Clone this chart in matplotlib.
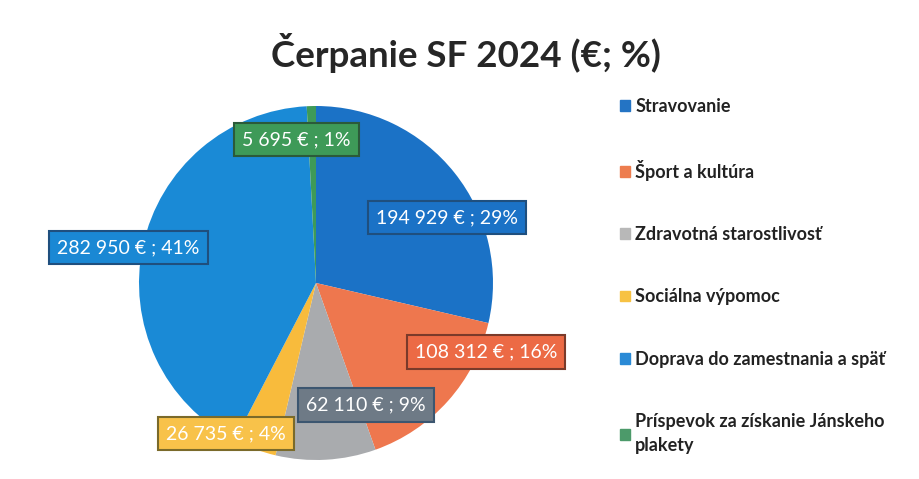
import matplotlib
matplotlib.use('Agg')
import matplotlib.pyplot as plt

# Data
categories = ['Stravovanie', 'Šport a kultúra', 'Zdravotná starostlivosť',
              'Sociálna výpomoc', 'Doprava do zamestnania a späť',
              'Príspevok za získanie Jánskeho\nplakety']
amounts = [194929, 108312, 62110, 26735, 282950, 5695]
percents = [29, 16, 9, 4, 41, 1]

# Styles
slice_colors = ['#1b72c6', '#ee774e', '#a9abae', '#f8bb3c', '#1a8ad6', '#3e9a58']
legend_colors = ['#2474c4', '#ed7d4f', '#b8b8b8', '#f7c243', '#2a8ad6', '#4c9a6a']
box_fill = ['#1b72c6', '#ec6a45', '#6e7a86', '#f8c24a', '#1a88d4', '#3e9a58']
box_edge = ['#1f4f7e', '#7a3a2a', '#3c5670', '#7a6a2a', '#1f4f7e', '#2b5a3a']
# label positions relative to pie centre (radius = 1)
label_pos = [(0.74, 0.37), (0.96, -0.39), (0.28, -0.69),
             (-0.51, -0.85), (-1.06, 0.20), (-0.11, 0.81)]

W, H = 919, 479
fig = plt.figure(figsize=(W / 100, H / 100), dpi=100)
fig.patch.set_facecolor('white')

cx, cy, r = 316, 283, 177
ax = fig.add_axes([(cx - r) / W, (H - cy - r) / H, 2 * r / W, 2 * r / H])
wedges, _ = ax.pie(amounts, colors=slice_colors, startangle=90,
                   counterclock=False, radius=1,
                   wedgeprops=dict(linewidth=0))
ax.set_xlim(-1, 1)
ax.set_ylim(-1, 1)
ax.set_aspect('equal')
ax.axis('off')

for i, (a, p) in enumerate(zip(amounts, percents)):
    txt = '{:,} € ; {}%'.format(a, p).replace(',', ' ')
    ax.text(label_pos[i][0], label_pos[i][1], txt, ha='center', va='center',
            color='white', fontsize=14, fontfamily='Lato',
            bbox=dict(boxstyle='square,pad=0.42', facecolor=box_fill[i],
                      edgecolor=box_edge[i], linewidth=1.5))

fig.text(0.507, 0.89, 'Čerpanie SF 2024 (€; %)', ha='center', va='center',
         fontsize=26.5, fontweight='bold', fontfamily='Lato', color='#262626')

handles = [plt.Rectangle((0, 0), 1, 1, color=c) for c in legend_colors]
leg = fig.legend(handles, categories, loc='upper left',
                 bbox_to_anchor=(620 / W, 1 - 98 / H), frameon=False,
                 borderaxespad=0, borderpad=0,
                 handlelength=0.55, handleheight=0.55, handletextpad=0.3,
                 labelspacing=2.5, prop=dict(family='Lato', weight='bold',
                                              size=13))
for t in leg.get_texts():
    t.set_color('#222222')
    t.set_linespacing(1.55)

fig.savefig('out.png', dpi=100)
